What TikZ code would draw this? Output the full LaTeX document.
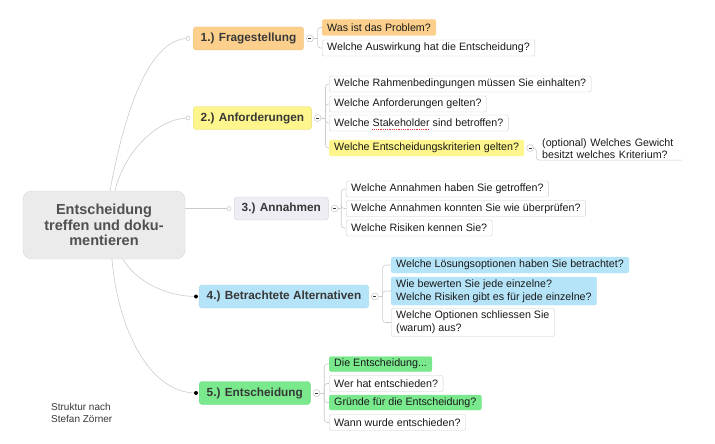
\documentclass[tikz,border=0pt]{standalone}
\usepackage{fontspec}
\setmainfont{Liberation Sans}
\setsansfont{Liberation Sans}
\usepackage{tikz}
\usetikzlibrary{positioning, calc}
\definecolor{mmLine}{RGB}{203, 203, 203}
\definecolor{mmToggle}{RGB}{185, 185, 185}
\definecolor{mmRoot}{RGB}{235, 235, 235}
\definecolor{mmRootLine}{RGB}{212, 212, 212}
\definecolor{mmRootText}{RGB}{80, 80, 80}
\definecolor{mmText}{RGB}{55, 55, 55}
\definecolor{mmLeafText}{RGB}{25, 25, 25}
\definecolor{mmLeafLine}{RGB}{205, 205, 205}
\definecolor{mmOrange}{RGB}{252, 208, 140}
\definecolor{mmOrangeLine}{RGB}{236, 192, 124}
\definecolor{mmYellow}{RGB}{254, 246, 140}
\definecolor{mmYellowLine}{RGB}{230, 220, 124}
\definecolor{mmLavender}{RGB}{237, 237, 243}
\definecolor{mmLavenderLine}{RGB}{211, 211, 220}
\definecolor{mmBlue}{RGB}{181, 228, 248}
\definecolor{mmBlueLine}{RGB}{160, 210, 232}
\definecolor{mmGreen}{RGB}{122, 233, 141}
\definecolor{mmGreenLine}{RGB}{108, 214, 126}
\definecolor{mmRed}{RGB}{235, 50, 60}
\newcommand{\leaffont}{\sffamily\fontsize{10.7}{13}\selectfont}
\newlength{\spellpre}
\newlength{\spellword}
\AtBeginDocument{%
  \settowidth{\spellpre}{\leaffont Welche\ }%
  \settowidth{\spellword}{\leaffont Stakeholder}%
}
\tikzset{
    base/.style={
        font=\sffamily
    },
    root/.style={
        base,
        rectangle,
        rounded corners=9pt,
        draw=mmRootLine,
        fill=mmRoot,
        text=mmRootText,
        font=\bfseries\fontsize{14.5}{15.5}\selectfont,
        align=center,
        minimum width=162pt,
        minimum height=68pt
    },
    branch/.style={
        base,
        rectangle,
        rounded corners=3pt,
        anchor=west,
        text=mmText,
        font=\bfseries\fontsize{11.8}{14}\selectfont,
        minimum height=23pt,
        inner xsep=7.5pt
    },
    leaf/.style={
        base,
        rectangle,
        rounded corners=2pt,
        anchor=west,
        draw=mmLeafLine,
        fill=white,
        text=mmLeafText,
        font=\leaffont,
        align=left,
        minimum height=16pt,
        inner xsep=5pt,
        inner ysep=1.5pt
    },
    note/.style={
        base,
        anchor=west,
        text=mmLeafText,
        font=\fontsize{10.7}{12}\selectfont,
        align=left,
        inner xsep=2pt,
        inner ysep=1pt
    },
    toggle/.style={
        circle,
        draw=mmToggle,
        fill=white,
        minimum size=7pt,
        inner sep=0pt,
        text=mmText
    },
    link/.style={
        draw=mmLine,
        line width=0.6pt
    },
    fork/.style={
        link,
        rounded corners=3pt
    },
    spell/.style={
        draw=mmRed,
        line width=1pt,
        dash pattern=on 1pt off 0.8pt
    }
}
\begin{document}
\begin{tikzpicture}[x=1pt, y=-1pt]
  \useasboundingbox (0,0) rectangle (715,444);

  % Central topic
  \node[root] (root) at (104,225) {Entscheidung\\treffen und doku-\\mentieren};

  % Main branches
  \node[branch, fill=mmOrange, draw=mmOrangeLine] (fq) at (193,38.5) {1.) Fragestellung};
  \node[branch, fill=mmYellow, draw=mmYellowLine] (anf) at (193,118) {2.) Anforderungen};
  \node[branch, fill=mmLavender, draw=mmLavenderLine] (ann) at (234,208.5) {3.) Annahmen};
  \node[branch, fill=mmBlue, draw=mmBlueLine] (alt) at (199,296.5) {4.) Betrachtete Alternativen};
  \node[branch, fill=mmGreen, draw=mmGreenLine] (ent) at (199,393) {5.) Entscheidung};

  \coordinate (dfq) at ([xshift=-5pt]fq.west);
  \coordinate (danf) at ([xshift=-5pt]anf.west);
  \coordinate (dann) at ([xshift=-5pt]ann.west);
  \coordinate (dalt) at ([xshift=-3pt]alt.west);
  \coordinate (dent) at ([xshift=-3pt]ent.west);

  \draw[link] ([xshift=6pt]root.north) .. controls +(15,-82) and +(-38,0) .. (dfq);
  \draw[link] ([xshift=11pt]root.north) .. controls +(10,-42) and +(-28,0) .. (danf);
  \draw[link] (root.east |- dann) -- (dann);
  \draw[link] ([xshift=19pt]root.south) .. controls +(12,21) and +(-31,0) .. (dalt);
  \draw[link] ([xshift=8pt]root.south) .. controls +(6,71) and +(-46,0) .. (dent);

  \foreach \d in {dfq, danf, dann}
    \draw[link, fill=white] (\d) circle (2pt);
  \foreach \d in {dalt, dent}
    \fill[black] (\d) circle (2pt);

  % Questions
  \node[leaf, fill=mmOrange, draw=mmOrange] (fq1) at (322,27.5) {Was ist das Problem?};
  \node[leaf] (fq2) at (322,48) {Welche Auswirkung hat die Entscheidung?};

  \node[leaf] (anf1) at (329,84) {Welche Rahmenbedingungen müssen Sie einhalten?};
  \node[leaf] (anf2) at (329,104) {Welche Anforderungen gelten?};
  \node[leaf] (anf3) at (329,123) {Welche Stakeholder sind betroffen?};
  \node[leaf, fill=mmYellow, draw=mmYellow] (anf4) at (329,148) {Welche Entscheidungskriterien gelten?};
  \node[note, text width=138pt] (opt) at (540,149) {(optional) Welches Gewicht\\besitzt welches Kriterium?};

  % spell check mark
  \draw[spell] ([xshift=5pt+\spellpre, yshift=-2.6pt]anf3.base west) -- ++(\spellword,0pt);

  \node[leaf] (ann1) at (346,189) {Welche Annahmen haben Sie getroffen?};
  \node[leaf] (ann2) at (346,208.5) {Welche Annahmen konnten Sie wie überprüfen?};
  \node[leaf] (ann3) at (346,228) {Welche Risiken kennen Sie?};

  \node[leaf, fill=mmBlue, draw=mmBlue] (alt1) at (391,265) {Welche Lösungsoptionen haben Sie betrachtet?};
  \node[leaf, fill=mmBlue, draw=mmBlue, minimum height=28pt] (alt2) at (391,291) {Wie bewerten Sie jede einzelne?\\Welche Risiken gibt es für jede einzelne?};
  \node[leaf, minimum height=28pt] (alt3) at (391,322.5) {Welche Optionen schliessen Sie\\(warum) aus?};

  \node[leaf, fill=mmGreen, draw=mmGreen, minimum height=15pt] (ent1) at (329,364) {Die Entscheidung...};
  \node[leaf] (ent2) at (329,383.5) {Wer hat entschieden?};
  \node[leaf, fill=mmGreen, draw=mmGreen, minimum height=15pt] (ent3) at (329,402.5) {Gründe für die Entscheidung?};
  \node[leaf] (ent4) at (329,422.5) {Wann wurde entschieden?};

  % Toggles and forks
  \node[toggle] (tfq) at ([xshift=6pt]fq.east) {\rule{3pt}{0.6pt}};
  \draw[link] (tfq.east) -- ++(4,0) coordinate (kfq);
  \foreach \c in {fq1, fq2}
    \draw[fork] (kfq) |- (\c.west);

  \node[toggle] (tanf) at ([xshift=6pt]anf.east) {\rule{3pt}{0.6pt}};
  \draw[link] (tanf.east) -- ++(4,0) coordinate (kanf);
  \foreach \c in {anf1, anf2, anf3, anf4}
    \draw[fork] (kanf) |- (\c.west);

  \node[toggle] (topt) at ([xshift=6pt]anf4.east) {\rule{3pt}{0.6pt}};
  \draw[fork] (topt.east) -- ++(2.5,0) |- (opt.south east);

  \node[toggle] (tann) at ([xshift=6pt]ann.east) {\rule{3pt}{0.6pt}};
  \draw[link] (tann.east) -- ++(3,0) coordinate (kann);
  \foreach \c in {ann1, ann2, ann3}
    \draw[fork] (kann) |- (\c.west);

  \node[toggle] (talt) at ([xshift=6pt]alt.east) {\rule{3pt}{0.6pt}};
  \draw[link] (talt.east) -- ++(4,0) coordinate (kalt);
  \foreach \c in {alt1, alt2, alt3}
    \draw[fork] (kalt) |- (\c.west);

  \node[toggle] (tent) at ([xshift=6pt]ent.east) {\rule{3pt}{0.6pt}};
  \draw[link] (tent.east) -- ++(4,0) coordinate (kent);
  \foreach \c in {ent1, ent2, ent3, ent4}
    \draw[fork] (kent) |- (\c.west);

  % Source
  \node[base, anchor=west, align=left, inner sep=0pt, text=mmText, font=\fontsize{10}{12}\selectfont] (src) at (51,413) {Struktur nach\\Stefan Zörner};
\end{tikzpicture}
\end{document}
